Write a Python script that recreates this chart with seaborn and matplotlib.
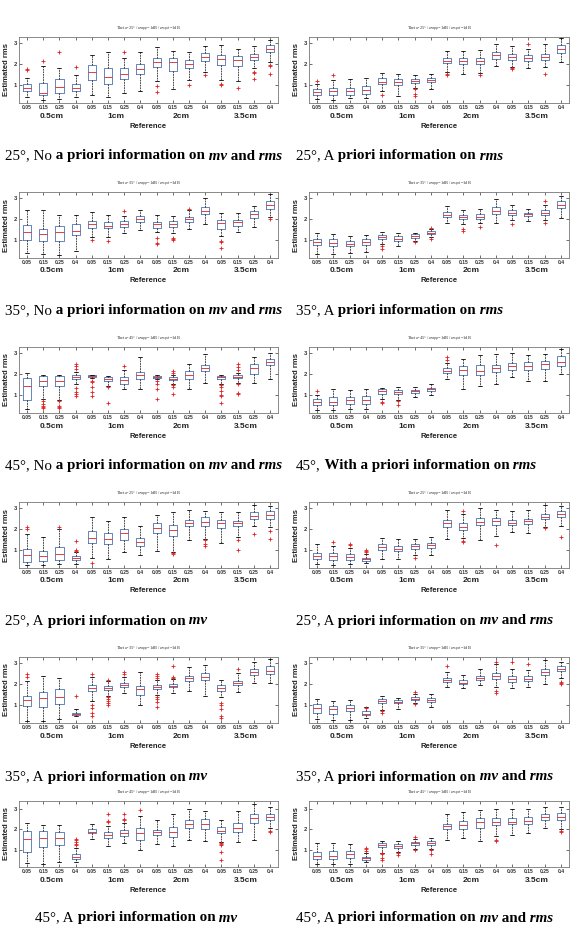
import numpy as np
import pandas as pd
import matplotlib
matplotlib.use("Agg")
import matplotlib.pyplot as plt
import matplotlib.text as mtext
import seaborn as sns

sns.set_theme(style="white")
plt.rcParams["font.family"] = ["Liberation Sans", "DejaVu Sans"]

TICK_LABELS = ["0.05", "0.15", "0.25", "0.4"] * 4
GROUP_LABELS = ["0.5cm", "1cm", "2cm", "3.5cm"]
GROUP_POS = [1.5, 5.5, 9.5, 13.5]

# (lower whisker, q1, median, q3, upper whisker) per box
box_25_no = [(0.45,0.72,0.88,1.08,1.35),(0.30,0.55,0.65,1.10,1.90),(0.35,0.65,0.90,1.30,1.80),(0.45,0.70,0.85,1.05,1.50),
             (0.55,1.25,1.65,1.95,2.45),(0.45,1.05,1.40,1.80,2.60),(0.65,1.30,1.55,1.80,2.30),(0.70,1.55,1.75,2.00,2.60),
             (1.20,1.85,2.10,2.30,2.80),(0.80,1.70,2.10,2.30,2.65),(1.25,1.80,2.00,2.20,2.60),(1.65,2.15,2.35,2.55,2.85),
             (1.25,1.95,2.25,2.45,2.90),(1.20,1.90,2.20,2.40,2.75),(1.80,2.20,2.35,2.50,2.85),(2.10,2.60,2.75,2.90,3.15)]
out_25_no = [[1.72,1.78],[2.15],[2.6],[1.85],[],[],[2.6],[],[0.95,0.68],[],[1.0],[1.5],[1.05,1.0],[0.85],[1.65,1.6,1.3],[1.95,1.9,1.55]]

box_25_rms = [(0.35,0.55,0.68,0.80,1.05),(0.30,0.55,0.70,0.85,1.25),(0.40,0.55,0.70,0.85,1.30),(0.40,0.60,0.75,0.95,1.35),
              (0.70,1.05,1.15,1.35,1.60),(0.50,1.00,1.15,1.30,1.55),(0.85,1.10,1.20,1.30,1.50),(0.80,1.15,1.25,1.35,1.55),
              (1.65,2.05,2.15,2.30,2.65),(1.55,2.00,2.15,2.30,2.65),(1.60,2.00,2.15,2.30,2.70),(1.90,2.25,2.45,2.60,2.95),
              (1.85,2.20,2.35,2.50,2.85),(1.80,2.15,2.30,2.45,2.75),(1.85,2.20,2.35,2.50,2.95),(2.10,2.55,2.75,2.90,3.25)]
out_25_rms = [[1.2],[1.5],[],[],[0.55],[],[0.8,0.6,0.5],[],[1.55,1.5],[],[1.5],[],[1.8,1.75],[2.95],[1.55],[]]

box_35_no = [(0.40,1.03,1.38,1.72,2.45),(0.35,0.95,1.30,1.55,2.45),(0.30,0.95,1.38,1.70,2.20),(0.50,1.25,1.45,1.75,2.20),
             (1.15,1.60,1.75,1.90,2.35),(1.15,1.60,1.70,1.85,2.20),(1.35,1.65,1.78,1.90,2.15),(1.50,1.88,2.00,2.15,2.45),
             (1.40,1.60,1.75,1.88,2.20),(1.35,1.65,1.78,1.90,2.15),(1.55,1.88,2.00,2.10,2.45),(1.75,2.25,2.40,2.60,3.00),
             (1.20,1.55,1.80,1.95,2.30),(1.40,1.70,1.85,1.95,2.30),(1.65,2.05,2.25,2.40,2.65),(2.10,2.50,2.68,2.85,3.20)]
out_35_no = [[],[],[],[],[1.0],[0.95],[2.4],[],[1.1,0.85,0.8],[1.1,1.05,1.0],[2.5],[],[0.95,0.9,0.65],[],[],[2.0]]

box_35_rms = [(0.35,0.75,0.92,1.05,1.35),(0.35,0.70,0.88,1.05,1.30),(0.40,0.70,0.80,0.95,1.20),(0.45,0.75,0.90,1.05,1.25),
              (0.80,1.05,1.15,1.25,1.40),(0.70,0.98,1.08,1.20,1.35),(0.95,1.12,1.20,1.28,1.35),(1.15,1.30,1.36,1.42,1.55),
              (1.80,2.12,2.22,2.35,2.65),(1.75,2.00,2.12,2.22,2.45),(1.80,2.00,2.12,2.25,2.50),(1.80,2.25,2.40,2.60,2.95),
              (1.95,2.20,2.30,2.42,2.70),(1.90,2.15,2.25,2.32,2.50),(1.95,2.20,2.30,2.42,2.70),(2.05,2.55,2.68,2.85,3.10)]
out_35_rms = [[],[],[],[],[0.7,0.6],[],[0.92],[1.6,1.05],[],[1.55,1.45],[1.65],[],[1.75],[],[2.85,1.8],[]]

box_45_no = [(0.35,0.76,1.42,1.82,2.05),(0.80,1.45,1.70,1.92,1.95),(0.75,1.45,1.70,1.90,1.95),(1.55,1.75,1.85,1.95,2.10),
             (1.80,1.85,1.90,1.95,1.97),(1.45,1.70,1.75,1.85,1.90),(1.30,1.55,1.72,1.88,2.20),(1.30,1.75,1.95,2.10,2.80),
             (1.75,1.83,1.88,1.93,1.97),(1.55,1.73,1.78,1.85,1.95),(1.30,1.75,1.95,2.15,2.50),(1.60,2.15,2.30,2.45,2.95),
             (1.55,1.75,1.85,1.92,1.95),(1.60,1.80,1.88,1.97,2.05),(1.60,2.00,2.28,2.50,2.80),(1.75,2.45,2.60,2.75,3.00)]
out_45_no = [[],[0.7,0.6,0.5,0.45,0.4],[0.7,0.5,0.45,0.4],[2.5,2.4,2.25,1.35,1.15,1.05,0.95],[1.7,1.65,1.4,1.15,0.95],
             [1.4,0.65],[2.4],[],[1.7,1.55,1.3,0.8],[2.15,2.05,1.5,1.4,1.05],[],[],[1.5,1.4,1.2,1.0,0.95,0.65],
             [2.5,2.35,2.2,1.55,1.1,1.05],[],[]]

box_45_rms = [(0.30,0.55,0.68,0.80,1.00),(0.30,0.52,0.68,0.90,1.28),(0.35,0.58,0.75,0.93,1.25),(0.35,0.58,0.75,0.95,1.30),
              (0.80,1.08,1.18,1.30,1.33),(0.78,1.05,1.13,1.25,1.40),(0.90,1.10,1.20,1.25,1.38),(1.00,1.22,1.28,1.35,1.52),
              (1.75,2.05,2.15,2.28,2.55),(1.30,1.98,2.18,2.38,2.75),(1.45,1.95,2.15,2.42,2.90),(1.55,2.12,2.28,2.45,2.95),
              (1.85,2.20,2.40,2.55,3.00),(1.70,2.20,2.40,2.60,2.90),(1.70,2.25,2.50,2.65,2.95),(2.00,2.40,2.60,2.85,3.20)]
out_45_rms = [[1.2],[],[],[],[0.68,0.65],[0.72,0.55],[],[],[2.8,2.7],[],[],[],[],[],[],[]]

box_25_mv = [(0.30,0.46,0.75,1.05,1.75),(0.30,0.50,0.70,0.98,1.65),(0.35,0.55,0.80,1.15,2.00),(0.35,0.55,0.65,0.72,0.90),
             (0.65,1.35,1.60,1.90,2.60),(0.60,1.30,1.55,1.80,2.40),(0.90,1.50,1.80,2.00,2.60),(0.75,1.20,1.40,1.60,2.15),
             (0.95,1.80,2.05,2.30,2.70),(0.90,1.70,1.95,2.20,2.80),(1.50,2.15,2.30,2.45,2.90),(1.55,2.15,2.35,2.60,2.85),
             (1.35,2.05,2.30,2.45,2.80),(1.65,2.15,2.28,2.40,2.80),(2.15,2.50,2.65,2.80,3.15),(2.10,2.50,2.70,2.85,3.10)]
out_25_mv = [[2.1,2.0],[],[2.1],[1.45,1.0,0.95],[0.4],[],[],[],[],[0.85,0.8],[],[1.5,1.3,1.2],[],[1.5,1.0],[1.75],[1.9,1.55]]

box_25_mvrms = [(0.35,0.60,0.72,0.88,1.30),(0.30,0.55,0.70,0.85,1.20),(0.35,0.55,0.68,0.80,1.10),(0.38,0.50,0.58,0.65,0.80),
                (0.60,1.00,1.15,1.30,1.60),(0.60,0.95,1.08,1.20,1.55),(0.75,1.08,1.18,1.28,1.55),(0.75,1.10,1.25,1.35,1.65),
                (1.55,2.10,2.30,2.45,2.90),(1.60,1.95,2.12,2.28,2.75),(1.50,2.20,2.35,2.55,3.00),(1.70,2.20,2.40,2.55,2.90),
                (1.85,2.18,2.32,2.45,2.85),(1.80,2.25,2.38,2.50,2.90),(2.10,2.50,2.60,2.75,3.15),(2.15,2.60,2.75,2.88,3.10)]
out_25_mvrms = [[],[1.4],[1.3,1.25],[1.0,0.95,0.9],[],[],[0.65],[],[],[2.85,1.45,1.4],[],[1.25],[],[],[2.05],[1.65]]

box_35_mv = [(0.25,0.95,1.25,1.45,2.15),(0.25,0.90,1.35,1.65,2.40),(0.35,1.05,1.40,1.75,2.30),(0.50,0.55,0.60,0.65,0.80),
             (1.20,1.70,1.80,1.95,2.35),(1.45,1.72,1.80,1.90,2.15),(1.60,1.85,1.95,2.05,2.35),(1.00,1.50,1.75,1.90,2.60),
             (1.50,1.75,1.85,1.95,2.20),(1.60,1.85,1.92,2.00,2.25),(1.70,2.15,2.30,2.40,2.80),(1.45,2.20,2.35,2.55,2.90),
             (1.40,1.70,1.82,1.95,2.20),(1.65,1.95,2.05,2.15,2.55),(2.05,2.45,2.60,2.75,3.05),(2.05,2.50,2.65,2.85,3.20)]
out_35_mv = [[2.5,2.35],[],[],[1.45],[2.5,1.0,0.85,0.65,0.5],[2.2,1.4,1.3,1.2,1.1,1.0],[2.6,2.5],[],
             [2.5,2.4,2.3,1.4,1.3,1.15,0.9],[2.85,2.35,2.3],[],[],[1.1,1.0,0.8,0.5,0.4],[2.75],[],[]]

box_35_mvrms = [(0.35,0.65,0.85,1.05,1.30),(0.30,0.60,0.80,0.98,1.20),(0.30,0.70,0.88,1.00,1.25),(0.40,0.52,0.60,0.70,0.90),
                (0.75,1.10,1.20,1.30,1.45),(0.80,1.10,1.15,1.25,1.35),(1.10,1.25,1.30,1.38,1.55),(0.90,1.15,1.25,1.35,1.55),
                (1.85,2.12,2.20,2.32,2.60),(1.80,2.00,2.08,2.20,2.45),(1.95,2.20,2.30,2.40,2.75),(1.85,2.25,2.40,2.55,2.95),
                (1.80,2.10,2.25,2.40,2.75),(1.85,2.15,2.25,2.38,2.70),(2.00,2.45,2.58,2.72,3.15),(2.30,2.65,2.75,2.85,3.05)]
out_35_mvrms = [[],[],[],[0.85],[0.7,0.65],[],[1.65,1.05],[],[2.85],[],[],[3.05,1.7,1.6],[3.05],[2.95],[],[2.1,2.05,2.0]]

box_45_mv = [(0.35,0.90,1.55,1.90,2.30),(0.30,1.15,1.60,1.90,2.20),(0.40,1.25,1.60,1.85,2.20),(0.40,0.55,0.65,0.80,1.10),
             (1.55,1.80,1.88,2.00,2.25),(1.20,1.60,1.72,1.85,2.15),(1.35,1.70,1.82,1.95,2.30),(1.00,1.50,1.80,2.05,2.65),
             (1.30,1.75,1.85,1.98,2.45),(1.20,1.65,1.85,2.10,2.75),(1.50,2.05,2.25,2.45,3.00),(1.45,2.00,2.25,2.50,2.90),
             (1.40,1.80,1.90,2.10,2.45),(1.40,1.85,2.05,2.30,2.90),(1.50,2.30,2.55,2.75,3.25),(2.05,2.45,2.62,2.75,3.10)]
out_45_mv = [[],[],[],[1.55,1.5,1.4,1.3,1.25],[],[2.75,2.4,2.35],[2.75,2.5,2.45],[2.95],[],[],[],[],
             [1.35,1.3,1.25,0.9,0.5],[],[],[1.9,1.85]]

box_45_mvrms = [(0.30,0.55,0.70,0.88,1.35),(0.30,0.55,0.68,0.95,1.35),(0.30,0.60,0.78,0.95,1.30),(0.40,0.50,0.57,0.65,0.85),
                (0.85,1.12,1.22,1.32,1.45),(0.90,1.08,1.18,1.28,1.45),(1.05,1.25,1.32,1.38,1.55),(1.05,1.25,1.32,1.42,1.60),
                (1.50,2.00,2.15,2.25,2.75),(1.60,2.00,2.20,2.40,2.85),(1.45,2.05,2.35,2.55,2.95),(1.70,2.20,2.35,2.55,3.00),
                (1.75,2.25,2.38,2.55,3.00),(1.80,2.25,2.40,2.60,3.00),(2.05,2.45,2.60,2.75,3.10),(2.00,2.45,2.62,2.80,3.10)]
out_45_mvrms = [[],[],[],[1.1,1.05,0.95],[0.85,0.8,0.6,0.5],[0.85,0.75],[1.65,1.0],[1.0,0.8],[],[],[],[1.5,1.45],[],[],[],[1.9,1.85]]

N, B, BI = ("normal", "normal"), ("bold", "normal"), ("bold", "italic")

def cap_no(a):
    return [(f"{a}°, No", N), (" a priori information on", B), (" mv", BI), (" and", B), (" rms", BI)]
def cap_rms(a):
    return [(f"{a}°, A", N), (" priori information on", B), (" rms", BI)]
def cap_mv(a):
    return [(f"{a}°, A", N), (" priori information on", B), (" mv", BI)]
def cap_mvrms(a):
    return [(f"{a}°, A", N), (" priori information on", B), (" mv", BI), (" and", B), (" rms", BI)]

panels = [
    (0, 0, 25, box_25_no, out_25_no, cap_no(25)),
    (0, 1, 25, box_25_rms, out_25_rms, cap_rms(25)),
    (1, 0, 35, box_35_no, out_35_no, cap_no(35)),
    (1, 1, 35, box_35_rms, out_35_rms, cap_rms(35)),
    (2, 0, 45, box_45_no, out_45_no, cap_no(45)),
    (2, 1, 45, box_45_rms, out_45_rms,
     [("45°,", N), (" With a priori information on", B), (" rms", BI)]),
    (3, 0, 25, box_25_mv, out_25_mv, cap_mv(25)),
    (3, 1, 25, box_25_mvrms, out_25_mvrms, cap_mvrms(25)),
    (4, 0, 35, box_35_mv, out_35_mv, cap_mv(35)),
    (4, 1, 35, box_35_mvrms, out_35_mvrms, cap_mvrms(35)),
    (5, 0, 45, box_45_mv, out_45_mv, cap_mv(45)),
    (5, 1, 45, box_45_mvrms, out_45_mvrms, cap_mvrms(45)),
]

W, H = 580, 933
fig = plt.figure(figsize=(W / 100, H / 100), dpi=100)
fig.patch.set_facecolor("white")

COL_X = [(19, 278), (309, 569)]
ROW_TOP = [37, 192, 347, 502, 657, 801]
AX_H = 66
CAP_Y = [156, 311, 466, 621, 777, 918]
CAP_X = [[5, 296], [5, 296], [5, 296], [5, 296], [5, 296], [35, 296]]

BLUE = "#3535c8"
RED = "#e02020"

for row, col, theta, boxes, outs, caption in panels:
    x0, x1 = COL_X[col]
    top = ROW_TOP[row]
    ax = fig.add_axes([x0 / W, 1 - (top + AX_H) / H, (x1 - x0) / W, AX_H / H])
    recs = [(i, v) for i, b in enumerate(boxes) for v in b]
    df = pd.DataFrame(recs, columns=["pos", "val"])
    frecs = [(i, v) for i, o in enumerate(outs) for v in o]
    fdf = pd.DataFrame(frecs, columns=["pos", "val"])
    order = list(range(16))
    sns.boxplot(data=df, x="pos", y="val", order=order, ax=ax, whis=(0, 100),
                showfliers=False, width=0.5, fill=False, linecolor=BLUE, linewidth=0.6,
                medianprops=dict(color=RED, linewidth=0.6),
                whiskerprops=dict(color="black", linewidth=0.5, linestyle=(0, (2.5, 1.2))),
                capprops=dict(color="black", linewidth=0.6))
    sns.stripplot(data=fdf, x="pos", y="val", order=order, ax=ax, jitter=False,
                  marker="+", color=RED, size=2.6, linewidth=0.6)
    ax.set_xlim(-0.5, 15.5)
    ax.set_ylim(0.15, 3.3 if row < 5 else 3.4)
    ax.set_yticks([1, 2, 3])
    ax.set_yticklabels(["1", "2", "3"], fontsize=4.2, fontweight="bold")
    ax.set_xticks(range(16))
    ax.set_xticklabels(TICK_LABELS, fontsize=3.6, fontweight="bold")
    ax.tick_params(direction="in", length=2, width=0.5, pad=1.2, top=True, right=True,
                   bottom=True, left=True, colors="#333333")
    for s in ax.spines.values():
        s.set_visible(True)
        s.set_color("#777777")
        s.set_linewidth(0.6)
    ax.set_xlabel("")
    ax.set_ylabel("Estimated rms", fontsize=5.5, fontweight="bold", color="#222222")
    ax.yaxis.set_label_coords(-0.034, 0.5)
    for gx, gl in zip(GROUP_POS, GROUP_LABELS):
        ax.text(gx, -13 / AX_H, gl, transform=ax.get_xaxis_transform(), ha="center",
                va="center", fontsize=6, fontweight="bold", color="#222222")
    ax.text(0.5, -23 / AX_H, "Reference", transform=ax.transAxes, ha="center", va="center",
            fontsize=5.5, fontweight="bold", color="#222222")
    ax.text(0.5, 1 + 8 / AX_H,
            f"Theta={theta}° / $\\sigma_{{app}}$=1dB / $\\sigma_{{spot}}$=1dB",
            transform=ax.transAxes, ha="center", va="center", fontsize=3.2,
            family=["Liberation Serif", "DejaVu Serif"], color="#333333")

    # caption with mixed styles, pieces chained left to right
    cx = CAP_X[row][col]
    cy = 1 - CAP_Y[row] / H
    prev = None
    for txt, (wt, st) in caption:
        kw = dict(fontsize=10.8, fontweight=wt, fontstyle=st,
                  family=["Liberation Serif", "DejaVu Serif"], color="black")
        if prev is None:
            prev = fig.text(cx / W, cy, txt, ha="left", va="center", **kw)
        else:
            prev = fig.add_artist(mtext.Annotation(txt, xy=(1, 0), xycoords=prev,
                                                   ha="left", va="bottom", **kw))

fig.savefig("out.png", dpi=100, facecolor="white")
